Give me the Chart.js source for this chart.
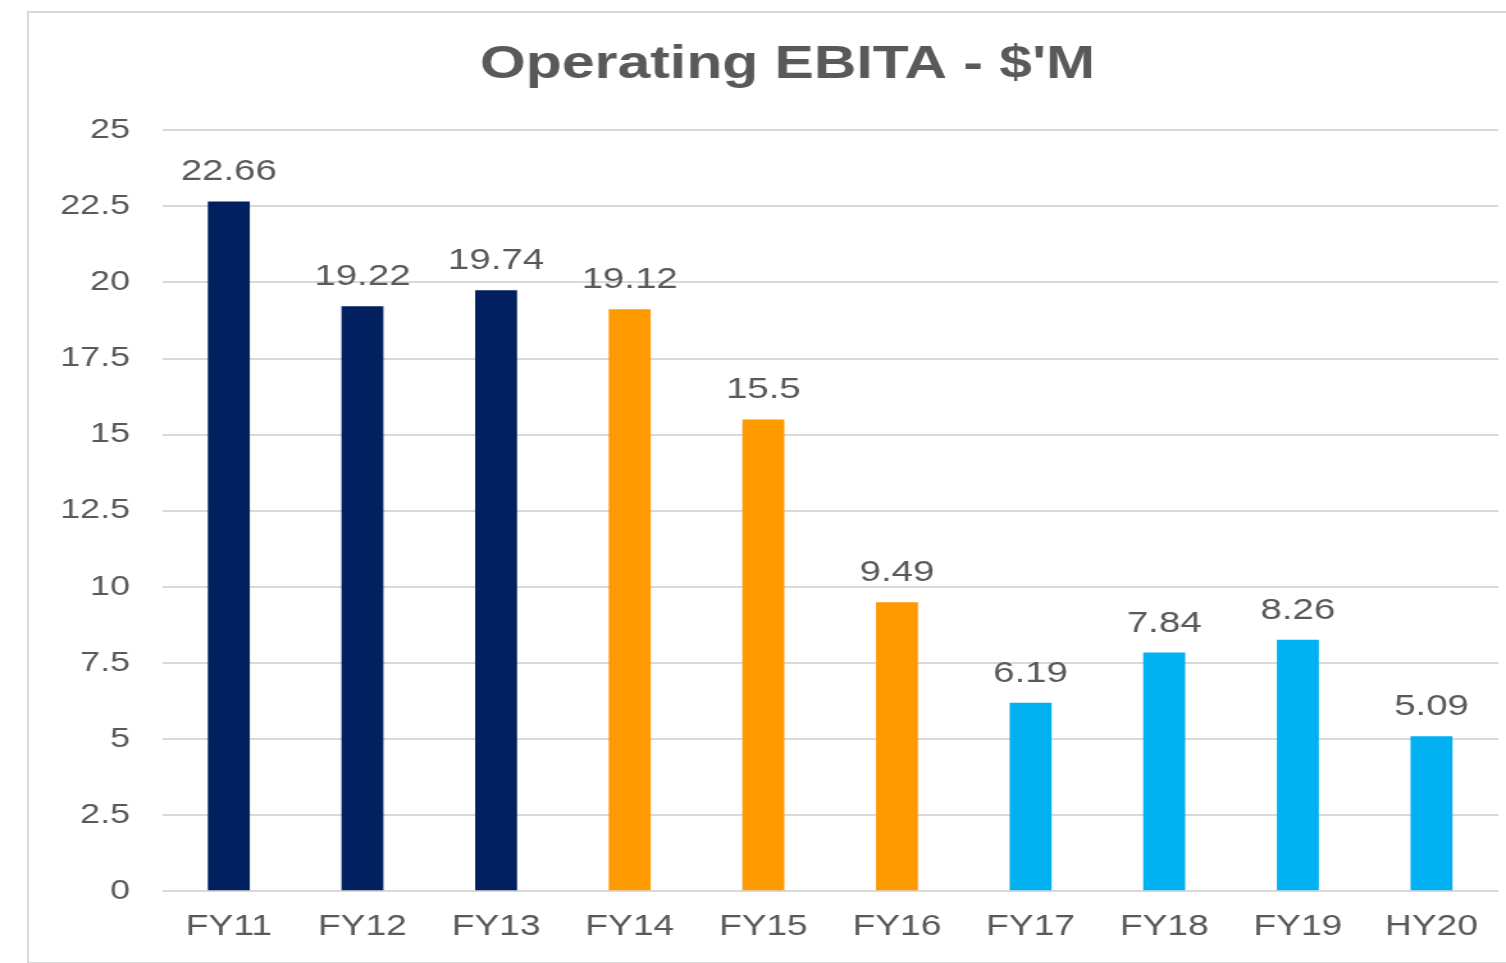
<!DOCTYPE html>
<html>
<head>
<meta charset="utf-8">
<script src="https://cdn.jsdelivr.net/npm/chart.js@4"></script>
<style>
  html, body { margin: 0; padding: 0; background: #fff; overflow: hidden; }
  #frame { position: absolute; left: 27px; top: 11px; width: 1600px; height: 949px; border: 2px solid #d9d9d9; }
  #chartCanvas { position: absolute; left: 0; top: 0; transform: scaleX(1.2806); transform-origin: 0 0; }
</style>
</head>
<body>
<div id="frame"></div>
<canvas id="chartCanvas" width="1176" height="963"></canvas>
<script>
const categories = ["FY11", "FY12", "FY13", "FY14", "FY15", "FY16", "FY17", "FY18", "FY19", "HY20"];
const ebitaValues = [22.66, 19.22, 19.74, 19.12, 15.5, 9.49, 6.19, 7.84, 8.26, 5.09];
const barColors = ["#002060", "#002060", "#002060", "#FF9900", "#FF9900", "#FF9900", "#00B0F0", "#00B0F0", "#00B0F0", "#00B0F0"];
const yTicks = [0, 2.5, 5, 7.5, 10, 12.5, 15, 17.5, 20, 22.5, 25];

const textGray = "#595959";
const font = "'Liberation Sans', Arial, sans-serif";

// value labels above bars
const valueLabels = {
  id: "valueLabels",
  afterDatasetsDraw(chart) {
    const ctx = chart.ctx;
    const meta = chart.getDatasetMeta(0);
    ctx.save();
    ctx.fillStyle = textGray;
    ctx.font = "30px " + font;
    ctx.textAlign = "center";
    ctx.textBaseline = "alphabetic";
    meta.data.forEach((bar, i) => {
      ctx.fillText(String(ebitaValues[i]), bar.x, bar.y - 21);
    });
    ctx.restore();
  }
};

// nudge the title a bit right, like the original
const titleShift = {
  id: "titleShift",
  afterLayout(chart) {
    const t = chart.titleBlock;
    if (t) { t.left += 30; t.right += 30; }
  }
};

const ctx = document.getElementById("chartCanvas").getContext("2d");
new Chart(ctx, {
  type: "bar",
  data: {
    labels: categories,
    datasets: [{
      data: ebitaValues,
      backgroundColor: barColors,
      borderWidth: 0,
      barPercentage: 0.314,
      categoryPercentage: 1
    }]
  },
  options: {
    responsive: false,
    animation: false,
    devicePixelRatio: 1,
    layout: { padding: { left: 0, right: 6, top: 0, bottom: 9 } },
    plugins: {
      legend: { display: false },
      tooltip: { enabled: false },
      title: {
        display: true,
        text: "Operating EBITA - $'M",
        color: textGray,
        font: { family: font, size: 46, weight: "bold" },
        padding: { top: 38, bottom: 37 }
      }
    },
    scales: {
      x: {
        grid: { display: false },
        border: { display: false },
        ticks: { color: textGray, font: { family: font, size: 29 }, padding: 10, maxRotation: 0 }
      },
      y: {
        min: 0,
        max: 25,
        afterFit(scale) { scale.width = 126.5; },
        afterBuildTicks(scale) { scale.ticks = yTicks.map(v => ({ value: v })); },
        grid: { color: "#d9d9d9", lineWidth: 2, drawTicks: false },
        border: { display: false },
        ticks: {
          color: textGray,
          font: { family: font, size: 28 },
          padding: 25,
          callback: v => String(v)
        }
      }
    }
  },
  plugins: [valueLabels, titleShift]
});
</script>
</body>
</html>
